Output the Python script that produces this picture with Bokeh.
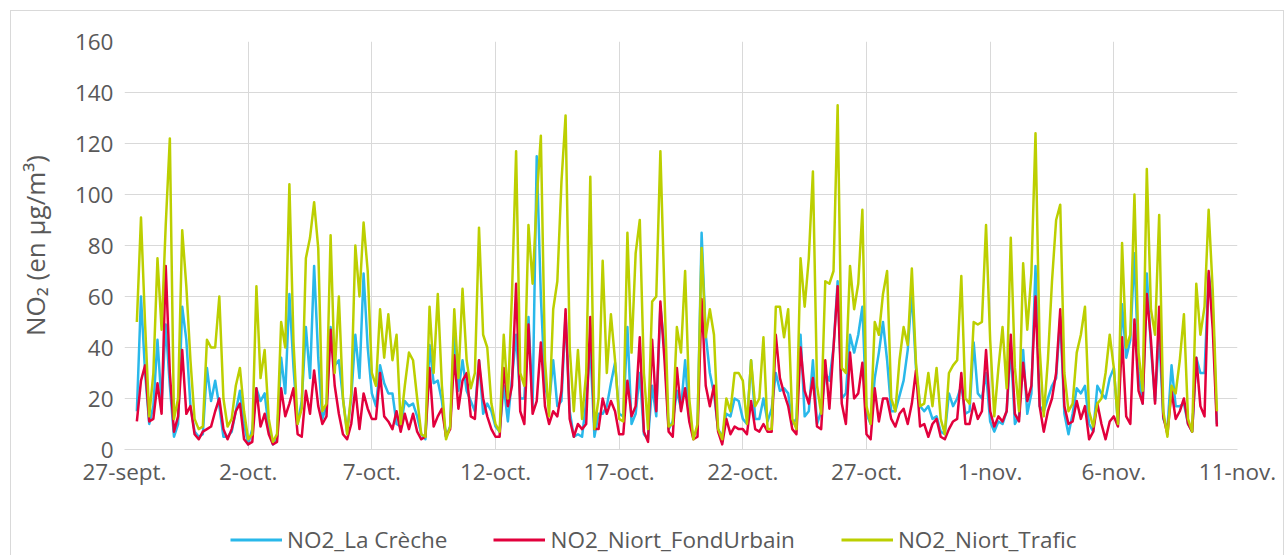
import pandas as pd
from bokeh.plotting import figure
from bokeh.layouts import column
from bokeh.models import Range1d, FixedTicker, Legend, LegendItem
from bokeh.embed import file_html
from bokeh.resources import INLINE

# ---- data (4-hourly readings, starting 27-sept 12:00) ----
start_time = "2021-09-27 12:00"
step = "4h"

la_creche = [
    15, 60, 30, 10, 17, 43, 18, 49, 25, 5, 10, 56, 43, 17, 7, 5, 6, 32, 19, 27,
    17, 5, 5, 7, 15, 23, 10, 2, 8, 24, 19, 22, 8, 2, 5, 36, 22, 61, 32, 10,
    19, 48, 28, 72, 36, 12, 17, 48, 33, 35, 20, 7, 20, 45, 28, 69, 40, 22, 17, 33,
    26, 22, 22, 10, 9, 19, 17, 18, 13, 6, 4, 41, 26, 27, 19, 5, 9, 45, 23, 35,
    23, 19, 15, 35, 14, 18, 15, 9, 7, 25, 11, 28, 45, 20, 20, 52, 17, 115, 60, 25,
    18, 35, 17, 19, 53, 15, 5, 6, 5, 19, 40, 5, 14, 14, 17, 26, 34, 14, 13, 48,
    10, 14, 30, 6, 4, 25, 13, 56, 40, 8, 11, 23, 16, 35, 12, 5, 8, 85, 45, 30,
    22, 8, 5, 14, 13, 20, 19, 12, 10, 35, 12, 12, 20, 11, 16, 30, 23, 24, 22, 10,
    12, 45, 13, 15, 35, 10, 15, 30, 27, 40, 66, 20, 22, 45, 38, 45, 56, 14, 10, 28,
    38, 50, 35, 15, 15, 21, 27, 39, 62, 32, 17, 15, 17, 12, 13, 7, 6, 22, 17, 20,
    25, 14, 15, 42, 22, 20, 30, 11, 7, 11, 10, 15, 40, 10, 13, 39, 14, 22, 72, 17,
    15, 20, 25, 28, 52, 14, 6, 14, 24, 22, 25, 10, 7, 25, 22, 20, 28, 32, 10, 57,
    36, 43, 77, 30, 18, 69, 40, 19, 45, 12, 8, 33, 17, 17, 18, 10, 7, 36, 30, 30,
    69, 56, 10,
]

niort_fond_urbain = [
    11, 27, 33, 11, 12, 26, 14, 72, 30, 7, 13, 39, 14, 17, 6, 4, 7, 8, 9, 15,
    20, 8, 4, 8, 15, 18, 4, 2, 3, 24, 9, 14, 6, 2, 3, 24, 13, 18, 24, 6,
    5, 23, 14, 31, 17, 10, 13, 47, 25, 14, 6, 4, 10, 24, 8, 22, 16, 12, 12, 30,
    13, 11, 8, 15, 7, 14, 8, 14, 7, 4, 5, 32, 9, 13, 16, 5, 8, 37, 16, 27,
    30, 13, 12, 35, 20, 13, 8, 5, 5, 32, 17, 25, 65, 15, 10, 49, 14, 19, 42, 17,
    10, 15, 13, 23, 55, 12, 5, 10, 8, 10, 52, 8, 8, 20, 14, 19, 15, 6, 6, 27,
    13, 17, 44, 7, 3, 43, 15, 58, 35, 7, 5, 32, 15, 24, 11, 4, 5, 59, 25, 17,
    25, 7, 2, 12, 6, 9, 8, 8, 6, 19, 8, 7, 10, 7, 7, 45, 28, 22, 17, 8,
    6, 40, 23, 18, 28, 9, 8, 35, 16, 40, 64, 18, 10, 38, 20, 22, 34, 6, 4, 24,
    11, 20, 20, 12, 9, 14, 16, 10, 18, 31, 9, 10, 5, 10, 12, 5, 4, 8, 11, 12,
    30, 10, 10, 18, 12, 15, 39, 15, 9, 13, 11, 15, 45, 14, 11, 34, 19, 25, 60, 17,
    7, 15, 20, 30, 55, 17, 10, 11, 19, 12, 17, 4, 7, 18, 10, 4, 11, 13, 9, 44,
    13, 10, 51, 23, 18, 61, 43, 18, 56, 13, 6, 23, 12, 15, 20, 10, 7, 36, 17, 13,
    70, 47, 9,
]

niort_trafic = [
    50, 91, 49, 13, 30, 75, 47, 88, 122, 12, 20, 86, 64, 35, 12, 8, 9, 43, 40, 40,
    60, 20, 9, 12, 25, 32, 15, 4, 6, 64, 28, 39, 12, 3, 6, 50, 40, 104, 42, 10,
    16, 75, 83, 97, 79, 15, 18, 84, 30, 60, 20, 6, 22, 80, 60, 89, 70, 30, 25, 55,
    36, 53, 35, 45, 10, 25, 38, 35, 20, 6, 5, 56, 30, 61, 25, 4, 9, 55, 28, 63,
    35, 24, 30, 87, 45, 40, 18, 10, 7, 45, 20, 61, 117, 30, 25, 88, 65, 98, 123, 35,
    13, 55, 66, 105, 131, 40, 15, 39, 12, 30, 107, 8, 20, 74, 30, 53, 35, 12, 11, 85,
    38, 77, 90, 30, 8, 58, 60, 117, 60, 9, 10, 48, 38, 70, 20, 4, 10, 79, 44, 55,
    45, 8, 4, 20, 15, 30, 30, 27, 10, 35, 17, 20, 44, 8, 8, 56, 56, 44, 55, 12,
    8, 75, 56, 75, 109, 25, 14, 66, 65, 70, 135, 32, 30, 72, 55, 65, 94, 17, 10, 50,
    45, 61, 70, 20, 15, 35, 48, 41, 71, 34, 17, 18, 30, 17, 32, 12, 6, 30, 33, 35,
    68, 20, 18, 50, 49, 50, 88, 43, 13, 32, 48, 24, 83, 32, 15, 73, 47, 69, 124, 40,
    13, 35, 66, 90, 96, 30, 15, 18, 38, 45, 56, 15, 9, 18, 20, 30, 45, 32, 10, 81,
    40, 45, 100, 38, 23, 110, 55, 45, 92, 15, 5, 25, 22, 35, 53, 12, 7, 65, 45, 56,
    94, 62, 15,
]

series_names = ["NO2_La Crèche", "NO2_Niort_FondUrbain", "NO2_Niort_Trafic"]
x_tick_labels = ["27-sept.", "2-oct.", "7-oct.", "12-oct.", "17-oct.",
                 "22-oct.", "27-oct.", "1-nov.", "6-nov.", "11-nov."]
y_ticks = [0, 20, 40, 60, 80, 100, 120, 140, 160]

# ---- build ----
times = pd.date_range(start_time, periods=len(niort_trafic), freq=step)
tick_dates = pd.date_range("2021-09-27", periods=len(x_tick_labels), freq="5D")
tick_ms = [float(t.value // 10**6) for t in tick_dates]

FONT = "Open Sans"
TXT = "#595959"
GRID = "#d9d9d9"
colors = ["#29b8ea", "#e2003c", "#bccf00"]

W = 1272
p = figure(width=W, height=479, x_axis_type="datetime",
           output_backend="svg", toolbar_location=None,
           x_range=Range1d(tick_ms[0], tick_ms[-1]), y_range=Range1d(0, 160),
           min_border_left=113, min_border_right=46, min_border_top=30,
           min_border_bottom=41)
p.outline_line_color = None
p.background_fill_color = "white"
p.border_fill_color = "white"

for vals, c in zip([la_creche, niort_fond_urbain, niort_trafic], colors):
    p.line(times, vals, line_color=c, line_width=2.5, line_join="round")

p.xaxis.ticker = FixedTicker(ticks=tick_ms)
p.xaxis.major_label_overrides = {t: lab for t, lab in zip(tick_ms, x_tick_labels)}
p.yaxis.ticker = FixedTicker(ticks=y_ticks)

for ax in (p.xaxis, p.yaxis):
    ax.major_tick_line_color = None
    ax.minor_tick_line_color = None
    ax.major_label_text_font = FONT
    ax.major_label_text_font_size = "22.5px"
    ax.major_label_text_color = TXT
p.xaxis.axis_line_color = GRID
p.xaxis.axis_line_width = 1
p.yaxis.axis_line_color = None
p.xaxis.major_label_standoff = 0
p.yaxis.major_label_standoff = 5

p.yaxis.axis_label = "NO₂ (en µg/m³)"
p.yaxis.axis_label_text_font = FONT
p.yaxis.axis_label_text_font_size = "26px"
p.yaxis.axis_label_text_font_style = "normal"
p.yaxis.axis_label_text_color = TXT
p.yaxis.axis_label_standoff = 19

p.xgrid.grid_line_color = GRID
p.ygrid.grid_line_color = GRID
p.xgrid.grid_line_width = 1
p.ygrid.grid_line_width = 1

# ---- legend strip below the chart ----
lg_fig = figure(width=W, height=65, output_backend="svg", toolbar_location=None,
                x_range=Range1d(0, 1), y_range=Range1d(0, 1), min_border=0)
lg_fig.axis.visible = False
lg_fig.grid.visible = False
lg_fig.outline_line_color = None
lg_fig.border_fill_color = "white"
items = []
nan = float("nan")
for name, c in zip(series_names, colors):
    r = lg_fig.line([nan], [nan], line_color=c, line_width=3)  # legend swatch only
    items.append(LegendItem(label=name, renderers=[r]))
legend = Legend(items=items, location=(106, 0), orientation="horizontal",
                padding=0, margin=0, spacing=46, border_line_color=None,
                background_fill_alpha=0, glyph_width=52, glyph_height=23,
                label_height=23, label_standoff=5,
                label_text_font=FONT, label_text_font_size="22.5px",
                label_text_color=TXT)
lg_fig.add_layout(legend)

layout = column(p, lg_fig, spacing=0)
layout.styles = {"margin-left": "11px", "margin-top": "11px",
                 "outline": "1px solid #d9d9d9"}

open("out.html", "w").write(file_html(layout, INLINE))
